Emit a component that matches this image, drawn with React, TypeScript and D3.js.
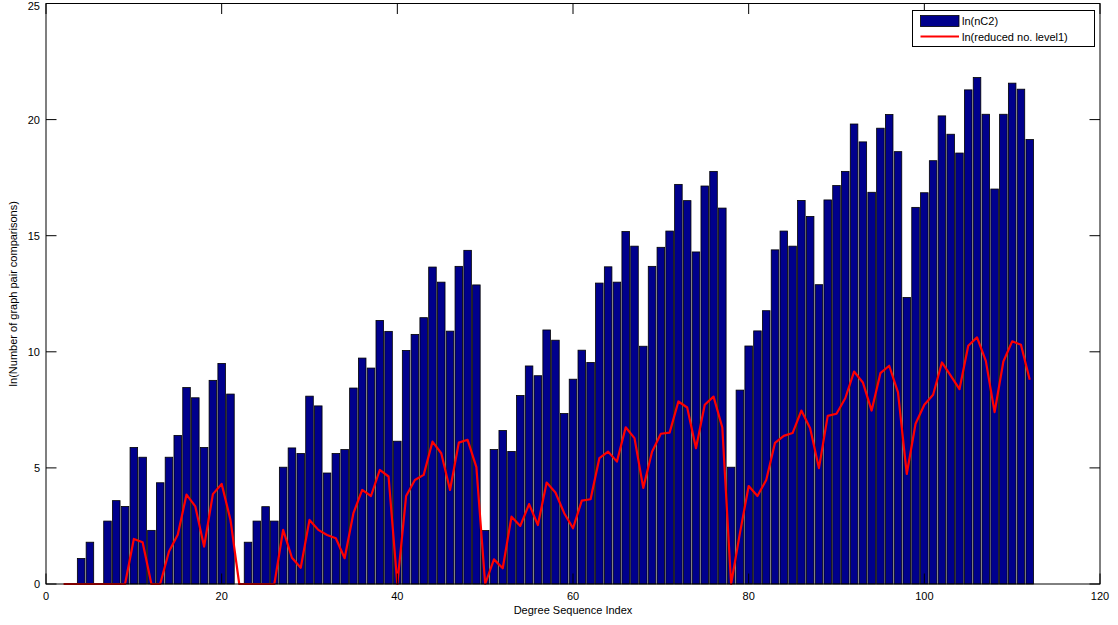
import React, { useEffect, useRef } from "react";
import * as d3 from "d3";

// bar heights ln(nC2), degree sequence index 2..112
const nC2 = [
  0, 0, 1.1, 1.8, 0, 2.71, 3.59, 3.34, 5.88, 5.46,
  2.31, 4.36, 5.46, 6.4, 8.46, 8.02, 5.88, 8.77, 9.5, 8.18,
  0, 1.8, 2.71, 3.33, 2.71, 5.03, 5.86, 5.62, 8.09, 7.67,
  4.78, 5.62, 5.79, 8.44, 9.73, 9.3, 11.35, 10.88, 6.15, 10.06,
  10.75, 11.47, 13.65, 13.0, 10.89, 13.68, 14.37, 12.88, 2.3, 5.79,
  6.61, 5.71, 8.12, 9.39, 8.97, 10.94, 10.5, 7.34, 8.82, 10.07,
  9.54, 12.96, 13.66, 13.0, 15.18, 14.55, 10.24, 13.68, 14.5, 15.2,
  17.21, 16.51, 14.3, 17.14, 17.77, 16.19, 5.03, 8.35, 10.25, 10.9,
  11.77, 14.39, 15.2, 14.55, 16.52, 15.83, 12.89, 16.54, 17.16, 17.77,
  19.81, 19.04, 16.87, 19.63, 20.22, 18.62, 12.34, 16.22, 16.85, 18.23,
  20.16, 19.37, 18.56, 21.28, 21.81, 20.23, 17.01, 20.23, 21.57, 21.31,
  19.14,
];

// red line ln(reduced no. level1), same indices
const reduced = [
  0, 0, 0, 0, 0, 0, 0, 0, 1.94, 1.8,
  0, 0, 1.4, 2.12, 3.85, 3.34, 1.61, 3.87, 4.31, 2.77,
  0, 0, 0, 0, 0, 2.33, 1.13, 0.7, 2.76, 2.33,
  2.11, 1.97, 1.11, 3.05, 4.05, 3.79, 4.91, 4.63, 0, 3.79,
  4.48, 4.7, 6.13, 5.63, 4.05, 6.09, 6.21, 5.03, 0, 1.06,
  0.68, 2.9, 2.5, 3.44, 2.54, 4.37, 3.94, 3.05, 2.4, 3.59,
  3.65, 5.42, 5.7, 5.27, 6.75, 6.28, 4.14, 5.7, 6.47, 6.52,
  7.86, 7.6, 5.85, 7.72, 8.07, 6.74, 0, 2.18, 4.22, 3.79,
  4.48, 6.08, 6.38, 6.5, 7.47, 6.71, 4.99, 7.24, 7.33, 8.0,
  9.15, 8.68, 7.47, 9.08, 9.4, 8.25, 4.74, 6.9, 7.72, 8.15,
  9.54, 8.97, 8.39, 10.26, 10.62, 9.61, 7.4, 9.58, 10.45, 10.3,
  8.8,
];

const firstIndex = 2;
const xTicks = [0, 20, 40, 60, 80, 100, 120];
const yTicks = [0, 5, 10, 15, 20, 25];
const legendLabels = ["ln(nC2)", "ln(reduced no. level1)"];

const App = () => {
  const svgRef = useRef<SVGSVGElement>(null);

  useEffect(() => {
    const svg = d3.select(svgRef.current);
    svg.selectAll("*").remove();

    const width = 1118;
    const height = 625;
    const left = 46;
    const right = 1100;
    const top = 3.5;
    const bottom = 584;
    const font = "'Liberation Sans', Arial, Helvetica, sans-serif";

    const x = d3.scaleLinear().domain([0, 120]).range([left, right]);
    const y = d3.scaleLinear().domain([0, 25]).range([bottom, top]);

    svg.append("rect").attr("width", width).attr("height", height).attr("fill", "#fff");

    const step = x(1) - x(0);
    const bw = step * 0.86;

    // bars
    svg.append("g")
      .selectAll("rect")
      .data(nC2.map((v, i) => ({ idx: firstIndex + i, v })).filter((d) => d.v > 0))
      .join("rect")
      .attr("x", (d) => x(d.idx) - bw / 2)
      .attr("y", (d) => y(d.v))
      .attr("width", bw)
      .attr("height", (d) => y(0) - y(d.v))
      .attr("fill", "#00008c")
      .attr("stroke", "#000")
      .attr("stroke-width", 0.8);

    // red line
    const line = d3.line<number>()
      .x((d, i) => x(firstIndex + i))
      .y((d) => y(d));

    svg.append("path")
      .datum(reduced)
      .attr("d", line)
      .attr("fill", "none")
      .attr("stroke", "#ff0000")
      .attr("stroke-width", 2.2)
      .attr("stroke-linejoin", "round");

    // axes box
    svg.append("rect")
      .attr("x", left)
      .attr("y", top)
      .attr("width", right - left)
      .attr("height", bottom - top)
      .attr("fill", "none")
      .attr("stroke", "#000")
      .attr("stroke-width", 1);

    const tick = 10.5;
    const ax = svg.append("g").attr("stroke", "#000").attr("stroke-width", 1);
    xTicks.forEach((t) => {
      ax.append("line").attr("x1", x(t)).attr("x2", x(t)).attr("y1", bottom).attr("y2", bottom - tick);
      ax.append("line").attr("x1", x(t)).attr("x2", x(t)).attr("y1", top).attr("y2", top + tick);
    });
    yTicks.forEach((t) => {
      ax.append("line").attr("x1", left).attr("x2", left + tick).attr("y1", y(t)).attr("y2", y(t));
      ax.append("line").attr("x1", right).attr("x2", right - tick).attr("y1", y(t)).attr("y2", y(t));
    });

    // tick labels
    svg.append("g")
      .selectAll("text")
      .data(xTicks)
      .join("text")
      .attr("x", (d) => x(d))
      .attr("y", bottom + 16)
      .attr("text-anchor", "middle")
      .style("font-family", font)
      .style("font-size", "11px")
      .text((d) => d);

    svg.append("g")
      .selectAll("text")
      .data(yTicks)
      .join("text")
      .attr("x", left - 6)
      .attr("y", (d) => Math.max(y(d) + 4, 9.5))
      .attr("text-anchor", "end")
      .style("font-family", font)
      .style("font-size", "11px")
      .text((d) => d);

    // axis titles
    svg.append("text")
      .attr("x", (left + right) / 2)
      .attr("y", 614)
      .attr("text-anchor", "middle")
      .style("font-family", font)
      .style("font-size", "11px")
      .text("Degree Sequence Index");

    svg.append("text")
      .attr("transform", `translate(17, ${(top + bottom) / 2}) rotate(-90)`)
      .attr("text-anchor", "middle")
      .style("font-family", font)
      .style("font-size", "11px")
      .text("ln(Number of graph pair comparisons)");

    // legend
    const lg = svg.append("g");
    lg.append("rect")
      .attr("x", 912.5)
      .attr("y", 10.5)
      .attr("width", 182)
      .attr("height", 36)
      .attr("fill", "#fff")
      .attr("stroke", "#000");
    lg.append("rect")
      .attr("x", 920.5)
      .attr("y", 15.5)
      .attr("width", 38.5)
      .attr("height", 11)
      .attr("fill", "#00008c")
      .attr("stroke", "#000")
      .attr("stroke-width", 0.8);
    lg.append("line")
      .attr("x1", 920.5)
      .attr("x2", 959)
      .attr("y1", 36.5)
      .attr("y2", 36.5)
      .attr("stroke", "#ff0000")
      .attr("stroke-width", 2.2);
    legendLabels.forEach((t, i) => {
      lg.append("text")
        .attr("x", 962)
        .attr("y", 25 + i * 15.5)
        .style("font-family", font)
        .style("font-size", "11px")
        .text(t);
    });
  }, []);

  return (
    <svg
      ref={svgRef}
      width={1118}
      height={625}
      style={{ position: "absolute", left: 0, top: 0, display: "block" }}
    ></svg>
  );
};

export default App;
